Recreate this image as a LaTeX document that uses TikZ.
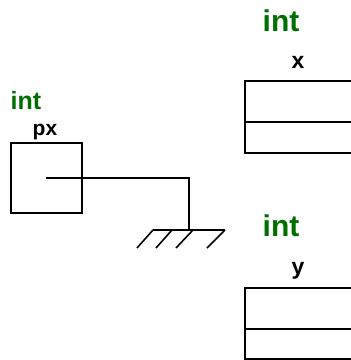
\documentclass[tikz,border=0pt]{standalone}
\usepackage{fontspec}
\setmainfont{Liberation Sans}
\definecolor{typegreen}{RGB}{0,110,0}
\begin{document}
\begin{tikzpicture}[x=1pt,y=-1pt,
  line width=1.6pt,
  typename/.style={text=typegreen,font=\fontsize{30}{30}\selectfont\bfseries,inner sep=0pt,anchor=base},
  varname/.style={font=\fontsize{23}{23}\selectfont\bfseries,inner sep=0pt,anchor=base},
  cell/.style={draw,rectangle,inner sep=0pt,outer sep=0pt,anchor=north west}]
\clip (0,0) rectangle (351,360);

% pointer variable px
\node[typename,font=\fontsize{25}{25}\selectfont\bfseries] (tpx) at (26,109) {int};
\node[varname,font=\fontsize{21}{21}\selectfont\bfseries] (lpx) at (45,135) {px};
\node[cell,minimum width=71pt,minimum height=70pt] (px) at (11,143) {};

% variable x
\node[typename] (tx) at (281,31) {int};
\node[varname] (lx) at (298,68) {x};
\node[cell,minimum width=130pt,minimum height=41pt] (x1) at (245,81) {};
\node[cell,minimum width=130pt,minimum height=31pt] (x2) at (245,122) {};

% variable y
\node[typename] (ty) at (281,236) {int};
\node[varname] (ly) at (298,274) {y};
\node[cell,minimum width=130pt,minimum height=41pt] (y1) at (245,288) {};
\node[cell,minimum width=130pt,minimum height=30pt] (y2) at (245,329) {};

% null pointer going to ground
\coordinate (bend) at (189,178);
\coordinate (gnd) at (189,230);
\draw (px.center) -- (bend) -- (gnd);
\draw (153,230) -- (225,230);
\foreach \t/\b in {153/137,172/156,193/176,225/207}
  \draw (\t,230) -- (\b,248);
\end{tikzpicture}
\end{document}
